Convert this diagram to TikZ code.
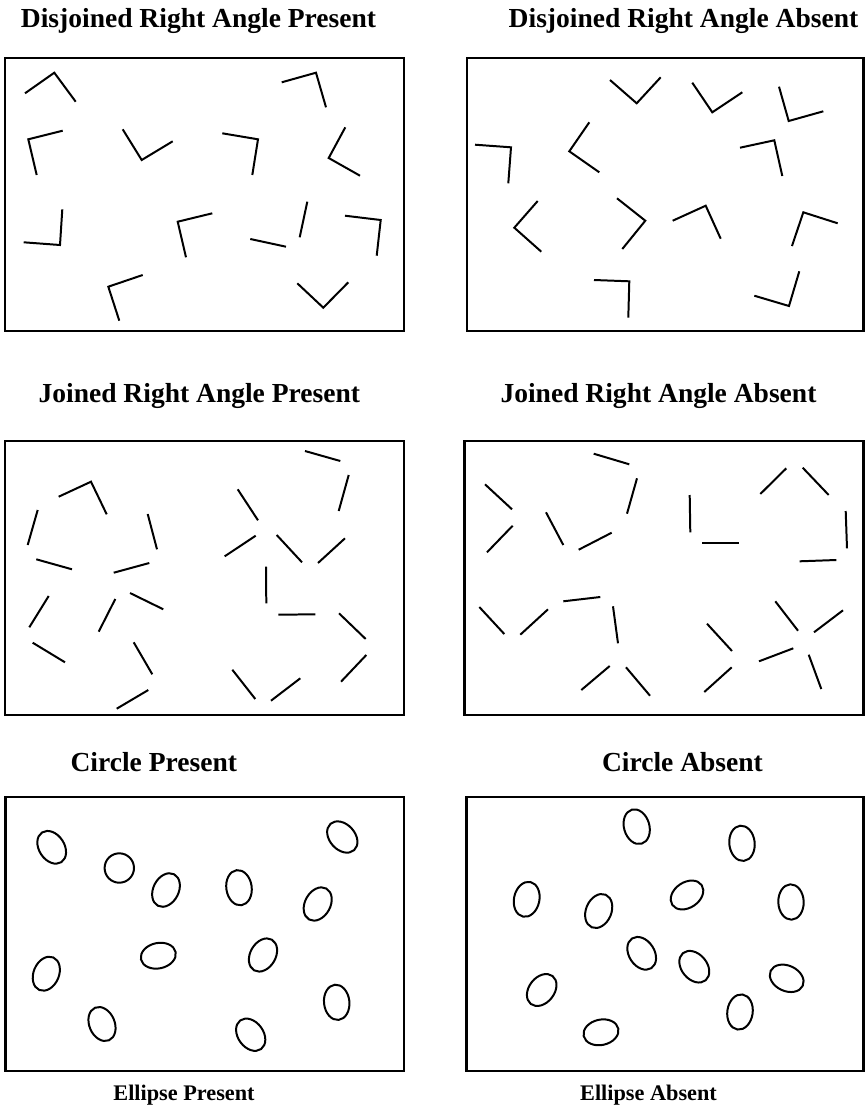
\documentclass[tikz,border=0pt]{standalone}
\usepackage{fontspec}
\setmainfont{Liberation Serif}
\tikzset{
  cadre/.style={line width=2.2pt},
  trait/.style={line width=1.7pt},
  titre/.style={anchor=base, inner sep=0pt, font=\fontsize{23.5}{28}\selectfont\bfseries},
  titrebas/.style={titre, font=\fontsize{19}{23}\selectfont\bfseries}
}
\begin{document}
\begin{tikzpicture}[x=0.03cm, y=-0.03cm]

  \useasboundingbox (0,0) rectangle (865,1107);

  % Cadres
  \draw[cadre] (5,58) rectangle (404,331);
  \draw[cadre] (467,58) rectangle (863.6,331);
  \draw[cadre] (5,441) rectangle (404,715);
  \draw[cadre] (464.5,441) rectangle (863.6,715);
  \draw[cadre] (5.5,797) rectangle (404,1071);
  \draw[cadre] (466.5,797) rectangle (863.6,1071);

  % Titres
  \node[titre] (dp) at (198.5,27.3) {Disjoined Right Angle Present};
  \node[titre] (da) at (683.5,27.3) {Disjoined Right Angle Absent};
  \node[titre] (jp) at (199.3,402.3) {Joined Right Angle Present};
  \node[titre] (ja) at (658.5,402.3) {Joined Right Angle Absent};
  \node[titre] (cp) at (153.8,771.7) {Circle Present};
  \node[titre] (ca) at (682.5,771.7) {Circle Absent};
  \node[titrebas] (ep) at (184,1100) {Ellipse Present};
  \node[titrebas] (ea) at (648.5,1100) {Ellipse Absent};

  % Angles droits (en haut)
  \foreach \xa/\ya/\xb/\yb/\xc/\yc in {25/93.3/54.3/72.7/75.7/101.7, 281.7/82.3/316/72.7/326/107.3,
      62.7/130.7/28.3/139.3/36.7/175, 122.7/129.3/141.7/160/172.7/141.3,
      222.3/133.3/258/139.3/252.3/175, 345.3/127.3/328.7/158/360/175.7,
      62.3/209.3/60/245/23.7/242.3, 212.3/213.3/177.7/221.7/186/257.3,
      345/215.7/380.7/220/376.7/255.7, 142.7/275/108.3/286.7/119.3/320.7,
      297.3/283.3/323.3/307.7/348.3/282.3,
      610/80/636.7/103.3/660.7/77.3, 692.3/82.7/712.3/112.3/742.3/92.3,
      779/86.7/788.7/121/823.3/111.3, 475/144.7/511/147.3/508.3/183.3,
      589.3/122.3/569.3/151.3/599.3/172.3, 740/147.7/774.3/140.3/782.3/176,
      537.7/201/514.3/227.7/541.3/251.7, 617/198.3/645.3/220.7/622.3/249,
      672.7/220.7/705.7/205.7/720.7/238.7, 792/246/803.3/212.3/837.7/223.3,
      594/280/629.3/281.3/628.3/317.7, 754.3/295.7/789/306/799.3/271.3,
      58.7/496.7/91/481.7/106.7/514.3}
    \draw[trait] (\xa,\ya) -- (\xb,\yb) -- (\xc,\yc);

  % Segments isoles
  \foreach \xa/\ya/\xb/\yb in {307.3/201.7/299.7/237.3, 250.3/239/286/246.7,
      37.7/510/27.7/545, 147.7/514/157/549.3, 36.3/559.3/72/569.3, 113.7/572.7/149.3/563,
      48.7/596/29.3/627.3, 115.3/599/98.7/631.7, 130/593/163.3/609.3, 32.7/642.7/65/662.3,
      133.7/642.3/152.3/674.3, 148.3/690/116.7/708.7, 305/451/340.3/461, 348.7/475/338.7/511,
      237.7/489.3/258/520.3, 255.7/535.7/224.7/556.3, 276.7/535/302/562.3, 345/538.3/318/563,
      266/566.7/266.3/603.3, 278.3/614.7/315.3/614.3, 339/613.3/365.7/639, 366.3/655/341/681.7,
      232.3/669.7/255.3/699, 300.3/678.3/271/700.7,
      593.7/453.7/629.3/464.3, 485/484.3/512/509.3, 637/478.3/627/513.7, 512.7/525.7/487/552.3,
      546/512.3/563.3/545, 611.7/532.7/578.7/549.7, 689.7/495/690.3/532.3, 702/542.7/739/542.7,
      786.3/468.3/760.3/494, 802.7/467.7/828.7/495, 845.7/511/847/548.3, 836.3/560/799.7/561.3,
      479.3/607/504.3/634, 548/609.3/520.3/634.7, 563.3/601.3/600.3/597, 613/606.3/618/643.3,
      609.7/666/581.3/690, 626/667.3/650/695.7, 707/623.7/732/651, 731.7/667.3/704.3/692,
      775.3/601.3/798/630.7, 843/610.3/814/632.3, 759/661.3/793.3/648.3, 808.7/654.7/821.3/689}
    \draw[trait] (\xa,\ya) -- (\xb,\yb);

  % Ellipses
  \foreach \x/\y/\r in {51.7/847.3/-57, 166/890/63, 239/887.7/-82, 317.7/904/61,
      342.3/837/-48, 46.3/973.7/67, 158.3/955.7/12, 263/955/60, 336.7/1002.3/96,
      102/1024/-67, 250.7/1034.7/-54,
      636.7/826.7/-74, 742/843.3/-84, 526.7/899.3/78, 598.7/911/67, 687/895/34,
      791/902/92, 641.7/953.3/-57, 694.3/966.7/-50, 786.7/978.3/-25, 541.7/990/52,
      740/1012/82, 601/1032.3/12}
    \draw[trait, rotate around={\r:(\x,\y)}] (\x,\y) ellipse [x radius=17.7, y radius=12.7];

  % Cercle
  \draw[trait] (119.3,868) circle [radius=14.7];

\end{tikzpicture}
\end{document}
